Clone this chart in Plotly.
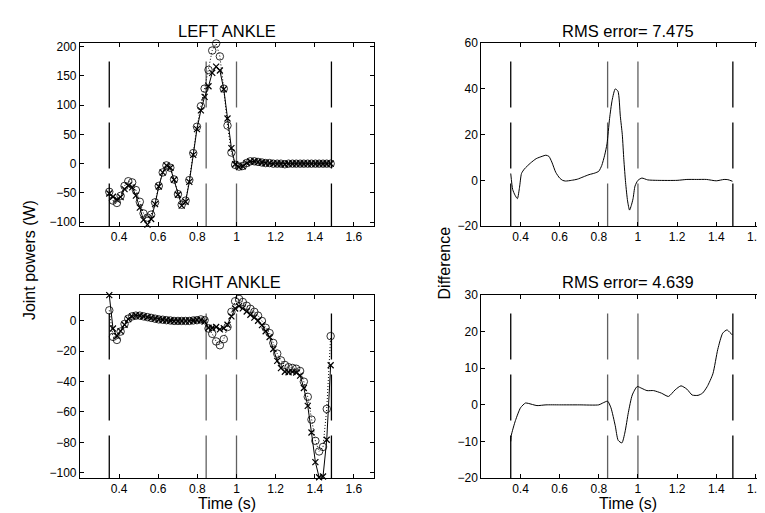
import plotly.graph_objects as go

# ---------------- data ----------------
t = [0.350, 0.369, 0.389, 0.408, 0.428, 0.447, 0.467, 0.486, 0.506, 0.525,
     0.545, 0.564, 0.584, 0.603, 0.623, 0.642, 0.662, 0.681, 0.701, 0.720,
     0.740, 0.759, 0.779, 0.798, 0.818, 0.837, 0.857, 0.876, 0.896, 0.915,
     0.935, 0.954, 0.974, 0.993, 1.013, 1.032, 1.052, 1.071, 1.091, 1.110,
     1.130, 1.149, 1.169, 1.188, 1.208, 1.227, 1.247, 1.266, 1.286, 1.305,
     1.325, 1.344, 1.364, 1.383, 1.403, 1.422, 1.442, 1.461, 1.481]

left_circles = [-48, -63, -67, -55, -38, -30, -32, -45, -65, -85,
                -92, -87, -66, -38, -15, -3, -7, -27, -52, -70,
                -63, -28, 18, 63, 98, 128, 160, 193, 205, 183,
                128, 65, 19, -2, -5, -4, 1, 4, 4, 3,
                2, 1, 1, 0, 0, 0, -1, 0, 0, 0,
                0, 0, 0, 0, 0, 0, 0, 0, 0]
left_crosses = [-51, -56.5, -61.5, -57, -43.5, -37.5, -40.5, -54.5, -75, -96,
                -104, -94.5, -69, -39, -15, -3, -7, -27.5, -53, -71.5,
                -65, -31, 15, 59, 91, 114, 132, 155, 165.5, 159,
                127, 77, 26.5, -1, -6, -4.5, 1, 4, 4, 3,
                2, 1, 1, 0, 0, 0, -1, 0, 0, 0,
                0, 0, 0, 0, 0, 0, 0, 0, 0]

right_circles = [7, -10.5, -12.5, -7, -2, 1.5, 3, 3.5, 3.5, 3,
                 2.5, 2, 1.5, 1, 0.8, 0.5, 0.3, 0, 0, 0,
                 0, 0, 0.3, 0.5, 1, 0.5, -5, -8.5, -13.5, -16,
                 -12, -4, 6, 13, 14.5, 12.5, 10, 8, 6, 3.5,
                 0, -4.5, -8, -14.5, -21.5, -26, -29, -30.5, -31, -31.5,
                 -33, -40, -50, -65, -79, -86, -83, -58, -10]
right_crosses = [17, -5, -10, -6.7, -2.5, 1.2, 3, 3.7, 3.5, 3,
                 2.5, 2, 1.5, 1, 0.8, 0.5, 0.3, 0, 0, 0,
                 0, 0, 0.3, 0.5, 0.5, -0.4, -4.5, -4.5, -4, -5.6,
                 -4.8, -2.5, 3, 8.2, 9.8, 8.3, 6.2, 4.1, 2.2, 0.1,
                 -2.8, -6.8, -10.6, -18.5, -26.3, -31.1, -33.5, -33.8, -33.6, -34,
                 -36, -44.2, -56, -73.5, -93, -103, -102.5, -78.3, -29.2]

t_diff_left = [0.350, 0.360, 0.372, 0.384, 0.395, 0.405, 0.420, 0.450, 0.480, 0.510,
               0.530, 0.545, 0.560, 0.580, 0.600, 0.615, 0.630, 0.660, 0.690, 0.720,
               0.750, 0.780, 0.800, 0.815, 0.830, 0.842, 0.855, 0.868, 0.884, 0.898,
               0.910, 0.920, 0.928, 0.937, 0.947, 0.957, 0.966, 0.975, 0.985, 1.000,
               1.020, 1.050, 1.100, 1.200, 1.250, 1.300, 1.350, 1.400, 1.440, 1.460,
               1.483]
diff_left = [3, -4, -6.5, -8, -3, 3, 5, 7.5, 9.5, 10.5,
             11, 10.5, 8, 3.5, 1, 0, -0.3, 0, 0.5, 1.5,
             2.5, 3.2, 4, 6.5, 11, 16, 27, 35, 40, 39,
             28, 20, 9, -1, -9, -13, -11, -8, -2.5, 0,
             1, 0.2, 0, 0, 0.4, 0.4, 0.4, -0.2, 0.4, 0.3,
             -0.4]

t_diff_right = [0.350, 0.353, 0.374, 0.400, 0.425, 0.440, 0.484, 0.530, 0.600, 0.700,
                0.800, 0.820, 0.845, 0.862, 0.884, 0.899, 0.918, 0.934, 0.951, 0.971,
                0.996, 1.020, 1.046, 1.080, 1.120, 1.156, 1.190, 1.220, 1.250, 1.277,
                1.307, 1.330, 1.354, 1.383, 1.408, 1.433, 1.455, 1.470, 1.483]
diff_right = [-10, -8.3, -4.3, -0.8, 0.5, 0.4, -0.2, 0, 0, 0,
              0, 0.5, 1, -0.8, -5.7, -9.7, -10.4, -7.4, -2.1, 2.7,
              5, 4.5, 3.9, 3.9, 3.2, 2.3, 4.1, 5.2, 4.3, 2.7,
              2.6, 3.2, 5, 8.5, 15.2, 19.6, 20.5, 19.8, 19.1]

event_times = [0.35, 0.845, 1.0, 1.485]
event_colors = ['#000000', '#606060', '#606060', '#000000']

titles = ['LEFT ANKLE', 'RMS error= 7.475', 'RIGHT ANKLE', 'RMS error= 4.639']
x_tickvals = [0.4, 0.6, 0.8, 1.0, 1.2, 1.4, 1.6]
x_ticktext = ['0.4', '0.6', '0.8', '1', '1.2', '1.4', '1.6']

# ---------------- figure ----------------
FONT = 'Liberation Sans, Arial, Helvetica, sans-serif'
W, H = 765, 513
fig = go.Figure()

def add_pair(xa, ya, circles, crosses):
    fig.add_trace(go.Scatter(
        x=t, y=crosses, xaxis=xa, yaxis=ya, mode='lines+markers',
        line=dict(color='black', width=1),
        marker=dict(symbol='x-thin-open', size=6, color='black',
                    line=dict(width=1.2, color='black')),
        showlegend=False, cliponaxis=False))
    fig.add_trace(go.Scatter(
        x=t, y=circles, xaxis=xa, yaxis=ya, mode='lines+markers',
        line=dict(color='black', width=1, dash='1px,2px'),
        marker=dict(symbol='circle-open', size=7.5, color='black',
                    line=dict(width=0.8, color='black')),
        showlegend=False, cliponaxis=False))

add_pair('x', 'y', left_circles, left_crosses)
add_pair('x3', 'y3', right_circles, right_crosses)

fig.add_trace(go.Scatter(x=t_diff_left, y=diff_left, xaxis='x2', yaxis='y2',
                         mode='lines', line=dict(color='black', width=1, shape='spline', smoothing=0.6),
                         showlegend=False))
fig.add_trace(go.Scatter(x=t_diff_right, y=diff_right, xaxis='x4', yaxis='y4',
                         mode='lines', line=dict(color='black', width=1, shape='spline', smoothing=0.6),
                         showlegend=False))

# domains (paper fractions)
xl = [72 / W, 366 / W]
xr = [474 / W, 1.0]
yt = [1 - 217 / H, 1 - 29 / H]
yb = [1 - 476 / H, 1 - 288 / H]

common = dict(showline=True, linecolor='black', linewidth=1, mirror='allticks',
              ticks='inside', ticklen=4, tickcolor='black', tickwidth=1,
              showgrid=False, zeroline=False,
              tickfont=dict(family=FONT, size=12, color='black'))

xcommon = dict(common, tickvals=x_tickvals, ticktext=x_ticktext)

fig.update_layout(
    width=W, height=H,
    margin=dict(l=0, r=0, t=0, b=0),
    paper_bgcolor='white', plot_bgcolor='white',
    xaxis=dict(xcommon, domain=xl, range=[0.2, 1.7], anchor='y'),
    yaxis=dict(common, domain=yt, range=[-106.5, 205.5], anchor='x',
               tickvals=[-100, -50, 0, 50, 100, 150, 200]),
    xaxis2=dict(xcommon, domain=xr, range=[0.2, 1.685], anchor='y2'),
    yaxis2=dict(common, domain=yt, range=[-20, 60], anchor='x2',
                tickvals=[-20, 0, 20, 40, 60]),
    xaxis3=dict(xcommon, domain=xl, range=[0.2, 1.7], anchor='y3'),
    yaxis3=dict(common, domain=yb, range=[-103.5, 17], anchor='x3',
                tickvals=[-100, -80, -60, -40, -20, 0]),
    xaxis4=dict(xcommon, domain=xr, range=[0.2, 1.685], anchor='y4'),
    yaxis4=dict(common, domain=yb, range=[-20, 30], anchor='x4',
                tickvals=[-20, -10, 0, 10, 20, 30]),
)

# event lines
shapes = []
for xa, ya in [('x', 'y'), ('x2', 'y2'), ('x3', 'y3'), ('x4', 'y4')]:
    for et, ec in zip(event_times, event_colors):
        shapes.append(dict(type='line', xref=xa, yref=ya + ' domain',
                           x0=et, x1=et, y0=0.9, y1=0.0,
                           line=dict(color=ec, width=1.3, dash='46px,15px'),
                           layer='below'))
fig.update_layout(shapes=shapes)

# titles & labels
ann = []
centers = [((xl[0] + xl[1]) / 2, 1 - 16 / H), ((xr[0] + 768 / W) / 2, 1 - 16 / H),
           ((xl[0] + xl[1]) / 2, 1 - 274 / H), ((xr[0] + 768 / W) / 2, 1 - 274 / H)]
for (cx, cy), txt in zip(centers, titles):
    ann.append(dict(text=txt, x=cx, y=cy, xref='paper', yref='paper',
                    xanchor='center', yanchor='middle', showarrow=False,
                    font=dict(family=FONT, size=16.5, color='black')))
for cx in [(xl[0] + xl[1]) / 2, (xr[0] + 768 / W) / 2]:
    ann.append(dict(text='Time (s)', x=cx, y=1 - 502 / H, xref='paper', yref='paper',
                    xanchor='center', yanchor='middle', showarrow=False,
                    font=dict(family=FONT, size=16, color='black')))
ann.append(dict(text='Joint powers (W)', x=21 / W, y=1 - 252 / H, xref='paper', yref='paper',
                xanchor='center', yanchor='middle', showarrow=False, textangle=-90,
                font=dict(family=FONT, size=16, color='black')))
ann.append(dict(text='Difference', x=437 / W, y=1 - 255 / H, xref='paper', yref='paper',
                xanchor='center', yanchor='middle', showarrow=False, textangle=-90,
                font=dict(family=FONT, size=16, color='black')))
fig.update_layout(annotations=ann)

fig.write_html('out.html')
